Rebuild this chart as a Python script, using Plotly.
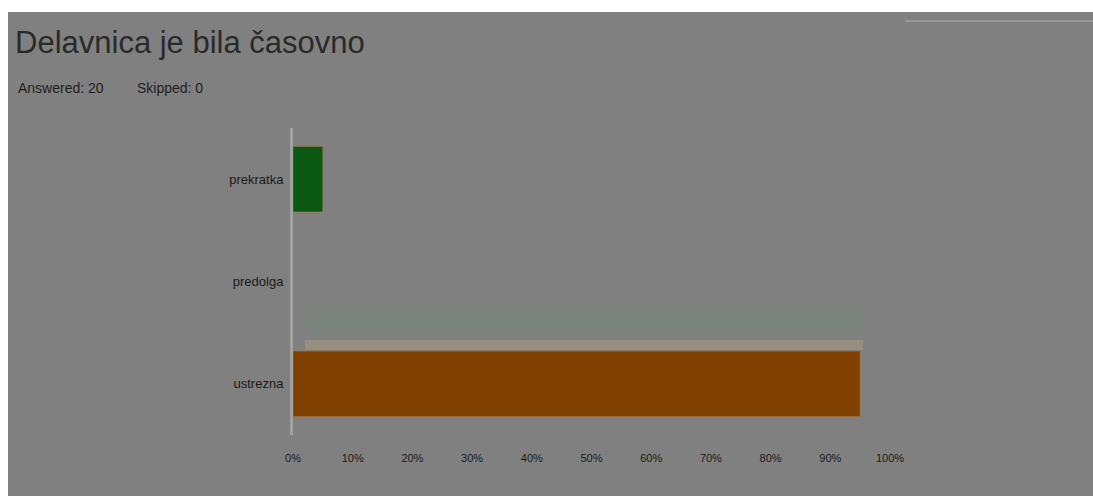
import plotly.graph_objects as go

# Survey question and response summary
title_text = "Delavnica je bila časovno"
answered_text = "Answered: 20"
skipped_text = "Skipped: 0"

# Answer options (top to bottom) and share of responses in percent
categories = ["prekratka", "predolga", "ustrezna"]
shares = [5, 0, 95]
bar_colors = ["#0a5812", "#7f4000", "#7f4000"]

tick_values = [0, 10, 20, 30, 40, 50, 60, 70, 80, 90, 100]
tick_labels = ["0%", "10%", "20%", "30%", "40%", "50%", "60%", "70%", "80%", "90%", "100%"]

W, H = 1093, 496
L, R, T, B = 293, 203, 128, 61
pw, ph = W - L - R, H - T - B


def px_x(x):
    return (x - L) / pw


def px_y(y):
    return (H - B - y) / ph


fig = go.Figure(
    go.Bar(
        x=shares,
        y=categories,
        orientation="h",
        marker=dict(color=bar_colors, line=dict(color="rgba(170,120,60,0.6)", width=1)),
        width=0.64,
        hoverinfo="x+y",
    )
)

shapes = [
    # white strips framing the grey panel
    dict(type="rect", xref="paper", yref="paper", x0=px_x(0), x1=px_x(W), y0=px_y(0), y1=px_y(12),
         fillcolor="white", line=dict(width=0), layer="below"),
    dict(type="rect", xref="paper", yref="paper", x0=px_x(0), x1=px_x(8), y0=px_y(0), y1=px_y(H),
         fillcolor="white", line=dict(width=0), layer="below"),
    # faint rule in the top-right corner
    dict(type="line", xref="paper", yref="paper", x0=px_x(905), x1=px_x(1093), y0=px_y(21), y1=px_y(21),
         line=dict(color="rgba(170,170,170,0.5)", width=2), layer="below"),
    # soft row band beneath the middle option
    dict(type="rect", xref="paper", yref="paper", x0=px_x(305), x1=px_x(863), y0=px_y(334), y1=px_y(310),
         fillcolor="rgba(110,140,120,0.3)", line=dict(width=0), layer="below"),
    dict(type="rect", xref="paper", yref="paper", x0=px_x(305), x1=px_x(863), y0=px_y(350), y1=px_y(340),
         fillcolor="rgba(185,165,125,0.4)", line=dict(width=0), layer="below"),
]

annotations = [
    dict(text=title_text, xref="paper", yref="paper", x=px_x(13), y=px_y(42), xanchor="left", yanchor="middle",
         showarrow=False, font=dict(family="Liberation Sans, Arial", size=31, color="#2a2a2a")),
    dict(text=answered_text, xref="paper", yref="paper", x=px_x(16), y=px_y(88), xanchor="left", yanchor="middle",
         showarrow=False, font=dict(family="Liberation Sans, Arial", size=14, color="#1e1e1e")),
    dict(text=skipped_text, xref="paper", yref="paper", x=px_x(135), y=px_y(88), xanchor="left", yanchor="middle",
         showarrow=False, font=dict(family="Liberation Sans, Arial", size=14, color="#1e1e1e")),
]

fig.update_layout(
    width=W,
    height=H,
    margin=dict(l=L, r=R, t=T, b=B),
    paper_bgcolor="#808080",
    plot_bgcolor="rgba(0,0,0,0)",
    showlegend=False,
    shapes=shapes,
    annotations=annotations,
    font=dict(family="Liberation Sans, Arial", size=11, color="#1e1e1e"),
)

fig.update_xaxes(
    range=[0, 100],
    tickvals=tick_values,
    ticktext=tick_labels,
    showgrid=False,
    zeroline=False,
    showline=False,
    ticks="",
    ticklabelstandoff=15,
    tickfont=dict(size=11, color="#1a1a1a"),
    fixedrange=True,
)

fig.update_yaxes(
    categoryorder="array",
    categoryarray=categories[::-1],
    showgrid=False,
    zeroline=False,
    showline=True,
    linecolor="#a2a2a2",
    linewidth=3,
    ticks="",
    ticklabelstandoff=4,
    tickfont=dict(size=13, color="#1a1a1a"),
    fixedrange=True,
)

fig.write_html("out.html")
